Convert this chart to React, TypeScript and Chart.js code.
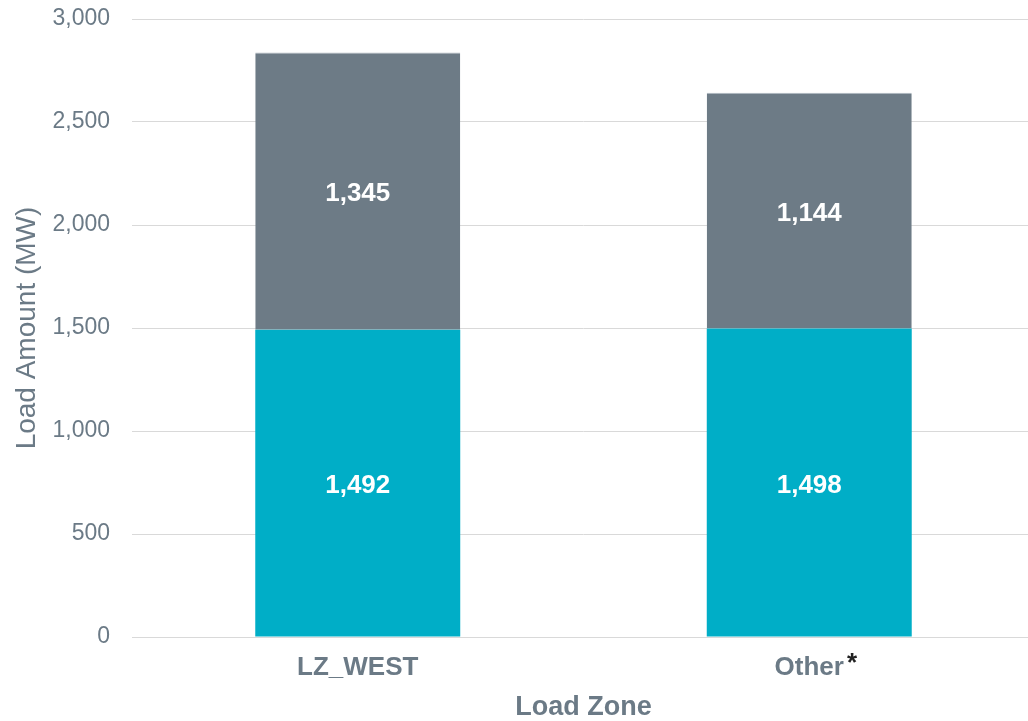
import React, { useEffect, useRef } from "react";
import { Chart, registerables } from "chart.js";

Chart.register(...registerables);

const categories = ["LZ_WEST", "Other"];
const footnoteMarks = ["", "*"];
const baseLoad = [1492, 1498];
const addedLoad = [1345, 1144];
const yTicks = [0, 500, 1000, 1500, 2000, 2500, 3000];

const TEXT = "#6B7A86";
const FONT = "'Liberation Sans', Arial, sans-serif";

const labelPlugin = {
  id: "segLabels",
  afterDatasetsDraw(chart: any) {
    const ctx = chart.ctx;
    ctx.save();
    ctx.fillStyle = "#FFFFFF";
    ctx.font = `bold 26px ${FONT}`;
    ctx.textAlign = "center";
    ctx.textBaseline = "middle";
    chart.data.datasets.forEach((ds: any, di: number) => {
      const meta = chart.getDatasetMeta(di);
      meta.data.forEach((el: any, i: number) => {
        const p = el.getProps(["x", "y", "base"], true);
        const v = ds.data[i] as number;
        ctx.fillText(v.toLocaleString("en-US"), p.x, (p.y + p.base) / 2 + 3);
      });
    });
    ctx.restore();
  },
};

const footnotePlugin = {
  id: "footnotes",
  afterDraw(chart: any) {
    const ctx = chart.ctx;
    const xs = chart.scales.x;
    ctx.save();
    footnoteMarks.forEach((m, i) => {
      if (!m) return;
      ctx.font = `bold 26px ${FONT}`;
      const w = ctx.measureText(categories[i]).width;
      const x = xs.getPixelForValue(i) + w / 2 + 3;
      ctx.font = `bold 26px ${FONT}`;
      ctx.fillStyle = "#222222";
      ctx.textAlign = "left";
      ctx.textBaseline = "alphabetic";
      ctx.fillText(m, x, 671);
    });
    ctx.restore();
  },
};

export default function App() {
  const ref = useRef<HTMLCanvasElement | null>(null);
  useEffect(() => {
    if (!ref.current) return;
    const chart = new Chart(ref.current, {
      type: "bar",
      data: {
        labels: categories,
        datasets: [
          {
            label: "Base",
            data: baseLoad,
            backgroundColor: "#00AEC7",
            borderWidth: 0,
            barPercentage: 0.454,
            categoryPercentage: 1,
          },
          {
            label: "Added",
            data: addedLoad,
            backgroundColor: "#6D7B86",
            borderColor: "#B3BCC3",
            borderWidth: { top: 1, left: 0, right: 0, bottom: 0 },
            borderSkipped: false,
            barPercentage: 0.454,
            categoryPercentage: 1,
          },
        ],
      },
      plugins: [labelPlugin, footnotePlugin],
      options: {
        animation: false,
        responsive: false,
        layout: { padding: { top: 19, left: 0, right: 0, bottom: 0 } },
        plugins: {
          legend: { display: false },
          tooltip: { enabled: false },
        },
        scales: {
          x: {
            stacked: true,
            grid: { display: false, drawTicks: false },
            border: { display: true, color: "#D9D9D9", width: 1 },
            ticks: {
              color: TEXT,
              font: { family: FONT, size: 26, weight: "bold" },
              padding: 15,
            },
            title: {
              display: true,
              text: "Load Zone",
              color: TEXT,
              font: { family: FONT, size: 27, weight: "bold", lineHeight: 1 },
              padding: { top: 0, bottom: 0 },
            },
            afterFit(scale: any) {
              scale.height = 84;
            },
          },
          y: {
            stacked: true,
            min: 0,
            max: 3000,
            afterBuildTicks(scale: any) {
              scale.ticks = yTicks.map((v) => ({ value: v }));
            },
            grid: { color: "#D9D9D9", lineWidth: 1, drawTicks: false },
            border: { display: false },
            ticks: {
              color: TEXT,
              font: { family: FONT, size: 23 },
              padding: 22,
              callback: (v: any) => Number(v).toLocaleString("en-US"),
            },
            title: {
              display: true,
              text: "Load Amount (MW)",
              color: TEXT,
              font: { family: FONT, size: 28, lineHeight: 1 },
              padding: { top: 13, bottom: 0 },
            },
            afterFit(scale: any) {
              scale.width = 132;
              scale.paddingTop = 0;
              scale.paddingBottom = 0;
            },
          },
        },
      },
    } as any);
    return () => chart.destroy();
  }, []);
  return (
    <div
      style={{
        position: "fixed",
        left: 0,
        top: 0,
        width: 1028,
        height: 721,
        overflow: "hidden",
        background: "#FFFFFF",
      }}
    >
      <canvas ref={ref} width={1035} height={721} style={{ display: "block" }} />
    </div>
  );
}
